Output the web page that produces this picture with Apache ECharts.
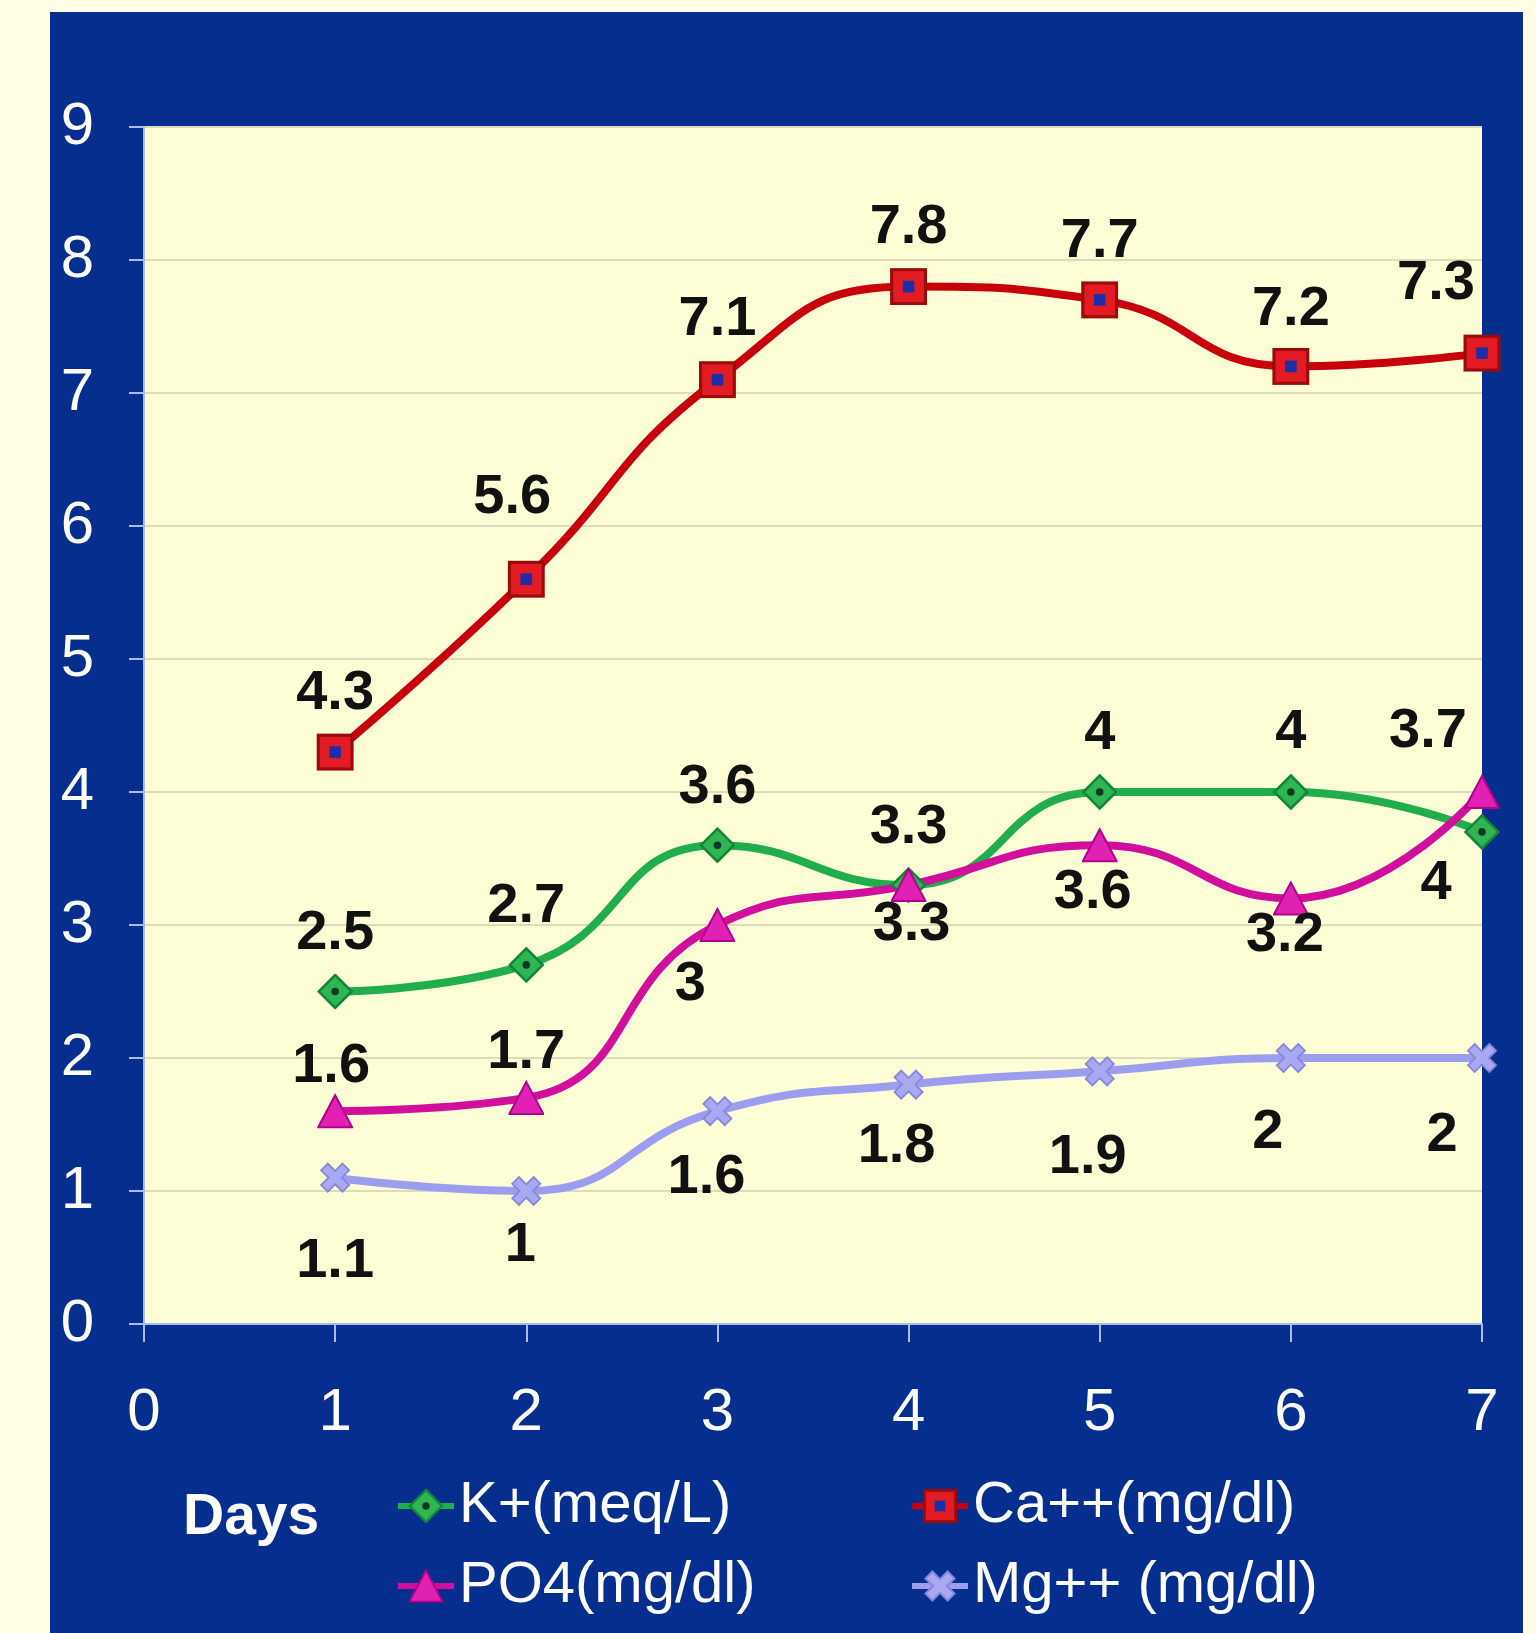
<!DOCTYPE html>
<html>
<head>
<meta charset="utf-8">
<title>Electrolytes by day</title>
<script src="https://cdn.jsdelivr.net/npm/echarts@6/dist/echarts.min.js"></script>
<style>
  html, body { margin: 0; padding: 0; background: #fffee4; }
  #chart { width: 1536px; height: 1633px; }
</style>
</head>
<body>
<div id="chart"></div>
<script>
// Day numbers on the x axis
const days = [1, 2, 3, 4, 5, 6, 7];

// Measured values per day
const kPlus  = [2.5, 2.7, 3.6, 3.3, 4, 4, 3.7];      // K+ (meq/L)
const caPlus = [4.3, 5.6, 7.1, 7.8, 7.7, 7.2, 7.3];  // Ca++ (mg/dl)
const po4    = [1.6, 1.7, 3, 3.3, 3.6, 3.2, 4];      // PO4 (mg/dl)
const mgPlus = [1.1, 1, 1.6, 1.8, 1.9, 2, 2];        // Mg++ (mg/dl)

// Axis ranges
const xTicks = [0, 1, 2, 3, 4, 5, 6, 7];
const yTicks = [0, 1, 2, 3, 4, 5, 6, 7, 8, 9];

// Value-label nudges (px) relative to each marker centre
const kLabelOffsets  = [[0,-58],[0,-58],[0,-58],[0,-58],[0,-58],[0,-59],[-54,-100]];
const caLabelOffsets = [[0,-59],[-14,-82],[0,-60],[0,-59],[0,-58],[0,-57],[-46,-70]];
const po4LabelOffsets= [[-4,-45],[0,-45],[-27,60],[3,39],[-7,47],[-6,37],[-46,92]];
const mgLabelOffsets = [[0,84],[-6,55],[-11,66],[-12,62],[-12,86],[-23,75],[-40,78]];

function svgSymbol(svg) {
  return 'image://data:image/svg+xml;charset=utf-8,' + encodeURIComponent(svg);
}
const SVG_HEAD = '<svg xmlns="http://www.w3.org/2000/svg" width="36" height="36" viewBox="0 0 36 36">';
const caSymbol = svgSymbol(SVG_HEAD +
  '<rect x="2" y="2" width="32" height="32" fill="#e31c23" stroke="#9c0b0b" stroke-width="3"/>' +
  '<rect x="12.5" y="12.5" width="11" height="11" fill="#1d2fa6"/></svg>');
const kSymbol = svgSymbol(SVG_HEAD +
  '<polygon points="18,1.5 34.5,18 18,34.5 1.5,18" fill="#2fb552" stroke="#10863a" stroke-width="2.5"/>' +
  '<circle cx="18" cy="18" r="3.8" fill="#0c3a22"/></svg>');
const po4Symbol = svgSymbol(SVG_HEAD +
  '<polygon points="18,2 35,34 1,34" fill="#e021b4" stroke="#b0008b" stroke-width="2"/></svg>');
const mgSymbol = svgSymbol(SVG_HEAD +
  '<polygon transform="rotate(45 18 18)" points="13,2 23,2 23,13 34,13 34,23 23,23 23,34 13,34 13,23 2,23 2,13 13,13" fill="#a9a9f3" stroke="#8787dc" stroke-width="2"/></svg>');

function toPoints(values, offsets) {
  return days.map((d, i) => ({
    value: [d, values[i]],
    label: { offset: offsets[i] }
  }));
}

const labelFont = {
  show: true,
  position: 'inside',
  color: '#111',
  fontFamily: '"Liberation Sans", Arial, sans-serif',
  fontWeight: 'bold',
  fontSize: 56,
  formatter: p => String(p.value[1])
};

function lineSeries(name, values, offsets, color, symbol, size) {
  return {
    name: name,
    type: 'line',
    data: toPoints(values, offsets),
    smooth: 0.5,
    symbol: symbol,
    symbolSize: size,
    showAllSymbol: true,
    lineStyle: { color: color, width: 8 },
    itemStyle: { color: color },
    label: labelFont,
    emphasis: { disabled: true },
    z: 3
  };
}

const legendText = {
  color: '#ffffff',
  fontFamily: '"Liberation Sans Narrow", "Arial Narrow", "Liberation Sans", sans-serif',
  fontSize: 58,
  lineHeight: 60
};
function legendAt(name, left, top) {
  return {
    data: [name],
    left: left,
    top: top,
    padding: 0,
    itemWidth: 56,
    itemHeight: 44,
    lineStyle: { width: 6 },
    textStyle: legendText,
    selectedMode: false
  };
}

const chart = echarts.init(document.getElementById('chart'), null, { renderer: 'canvas' });
chart.setOption({
  animation: false,
  backgroundColor: '#fffee4',
  graphic: [
    {
      type: 'rect',
      shape: { x: 50, y: 12, width: 1473, height: 1640 },
      style: { fill: '#052e8e' },
      z: -10
    },
    {
      type: 'text',
      left: 183,
      top: 1490,
      style: {
        text: 'Days',
        fill: '#ffffff',
        font: 'bold 57px "Liberation Sans", Arial, sans-serif'
      },
      z: 5
    }
  ],
  grid: {
    left: 144,
    top: 127,
    width: 1338,
    height: 1197,
    show: true,
    backgroundColor: '#fefed6',
    borderWidth: 0
  },
  xAxis: {
    type: 'value',
    min: xTicks[0],
    max: xTicks[xTicks.length - 1],
    interval: 1,
    axisLine: { show: true, lineStyle: { color: '#a9bde9', width: 2 } },
    axisTick: { show: true, length: 18, lineStyle: { color: '#a9bde9', width: 2 } },
    axisLabel: {
      color: '#ffffff',
      fontFamily: '"Liberation Sans", Arial, sans-serif',
      fontSize: 60,
      margin: 59
    },
    splitLine: { show: false }
  },
  yAxis: {
    type: 'value',
    min: yTicks[0],
    max: yTicks[yTicks.length - 1],
    interval: 1,
    axisLine: { show: true, lineStyle: { color: '#a9bde9', width: 2 } },
    axisTick: { show: true, length: 15, lineStyle: { color: '#a9bde9', width: 2 } },
    axisLabel: {
      color: '#ffffff',
      fontFamily: '"Liberation Sans", Arial, sans-serif',
      fontSize: 60,
      margin: 50
    },
    splitLine: { show: true, lineStyle: { color: '#dcdcbc', width: 2 } }
  },
  legend: [
    legendAt('K+(meq/L)', 395, 1476),
    legendAt('Ca++(mg/dl)', 909, 1476),
    legendAt('PO4(mg/dl)', 395, 1556),
    legendAt('Mg++ (mg/dl)', 909, 1556)
  ],
  series: [
    lineSeries('K+(meq/L)', kPlus, kLabelOffsets, '#1fae4b', kSymbol, 36),
    lineSeries('Ca++(mg/dl)', caPlus, caLabelOffsets, '#c8000c', caSymbol, 38),
    lineSeries('PO4(mg/dl)', po4, po4LabelOffsets, '#d20f9c', po4Symbol, 36),
    lineSeries('Mg++ (mg/dl)', mgPlus, mgLabelOffsets, '#9d9df0', mgSymbol, 34)
  ]
});
</script>
</body>
</html>
